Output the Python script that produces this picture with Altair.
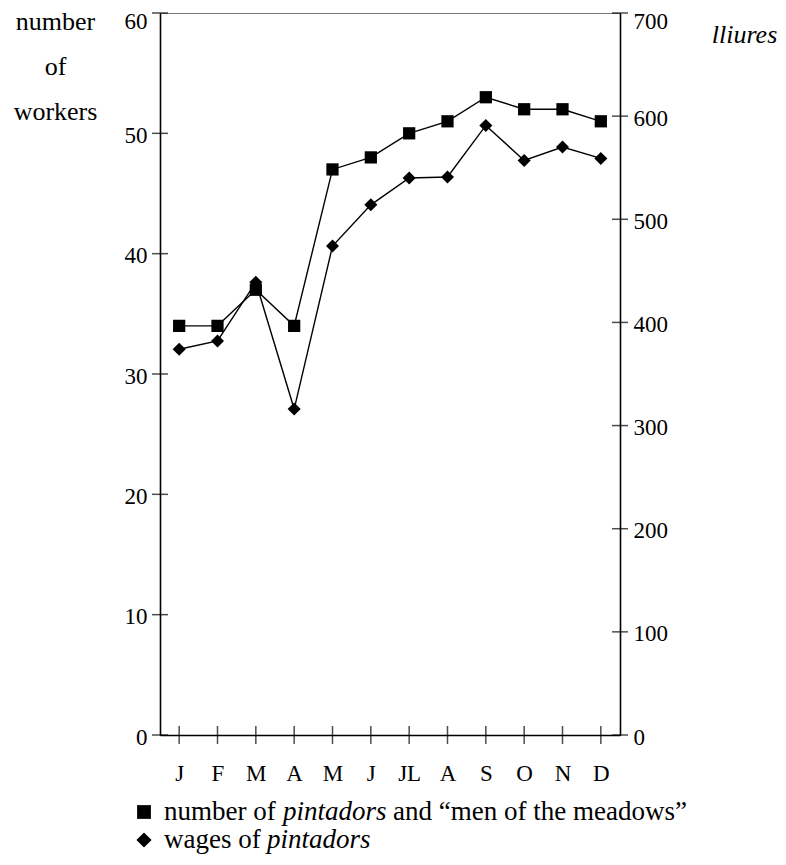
import altair as alt
import pandas as pd

FONT = "Liberation Serif"

month_labels = ["J", "F", "M", "A", "M", "J", "JL", "A", "S", "O", "N", "D"]
month_num = list(range(1, 13))
workers = [34, 34, 37, 34, 47, 48, 50, 51, 53, 52, 52, 51]
wages = [374, 382, 439, 316, 474, 514, 540, 541, 591, 557, 570, 559]
left_ticks = [0, 10, 20, 30, 40, 50, 60]
right_ticks = [0, 100, 200, 300, 400, 500, 600, 700]

df = pd.DataFrame({"m": month_num, "workers": workers, "wages": wages})
months_df = pd.DataFrame({"m": month_num})
lt_df = pd.DataFrame({"v": left_ticks})
rt_df = pd.DataFrame({"v": right_ticks})
one = pd.DataFrame({"k": [0]})

W, H = 460, 722
TICK_LEN = 16
LEG_Y1, LEG_Y2 = 799, 827
LEG_FS = 27
LAB_FS = 23

label_expr = "[" + ",".join("'%s'" % s for s in month_labels) + "][datum.value - 1]"

x_enc = alt.X(
    "m:Q",
    scale=alt.Scale(domain=[0.5, 12.5], nice=False, zero=False),
    axis=alt.Axis(values=month_num, labelExpr=label_expr, title=None, ticks=False,
                  tickSize=0, grid=False, labelPadding=27, labelBaseline="top",
                  labelFontSize=LAB_FS, labelFont=FONT, labelColor="black",
                  domainColor="black", domainWidth=1.6),
)

left_scale = alt.Scale(domain=[0, 60], nice=False, zero=True)
right_scale = alt.Scale(domain=[0, 700], nice=False, zero=True)

left_axis = alt.Axis(orient="left", values=left_ticks, title=["number", "of", "workers"],
                     titleAngle=0, titleX=-105, titleY=16, titleAlign="center",
                     titleBaseline="alphabetic", titleLineHeight=45, titleFontSize=26,
                     titleFont=FONT, titleFontWeight="normal", titleColor="black",
                     ticks=False, tickSize=0, labelPadding=13,
                     labelOffset={"condition": {"test": "datum.value == 60", "value": 8},
                                  "value": 2},
                     grid=False, labelFontSize=LAB_FS, labelFont=FONT, labelColor="black",
                     domainColor="black", domainWidth=1.6)
right_axis = alt.Axis(orient="right", values=right_ticks, title="lliures",
                      titleAngle=0, titleX=124, titleY=29, titleAlign="center",
                      titleBaseline="alphabetic", titleFontSize=26, titleFontStyle="italic",
                      titleFont=FONT, titleFontWeight="normal", titleColor="black",
                      ticks=False, tickSize=0, labelPadding=13,
                      labelOffset={"condition": {"test": "datum.value == 700", "value": 8},
                                   "value": 2},
                      grid=False, labelFontSize=LAB_FS, labelFont=FONT, labelColor="black",
                      domainColor="black", domainWidth=1.6)

y_left = alt.Y("workers:Q", scale=left_scale, axis=left_axis)
y_right = alt.Y("wages:Q", scale=right_scale, axis=right_axis)

line_w = alt.Chart(df).mark_line(color="black", strokeWidth=1.4).encode(x=x_enc, y=y_left)
pts_w = alt.Chart(df).mark_point(shape="square", filled=True, size=150, color="black",
                                 opacity=1).encode(x=x_enc, y=y_left)

ticks_x = alt.Chart(months_df).mark_tick(orient="vertical", size=TICK_LEN + 2, thickness=1.5,
                                         color="black").encode(x=x_enc, y=alt.value(H))
ticks_l = alt.Chart(lt_df).mark_tick(orient="horizontal", size=TICK_LEN, thickness=1.5,
                                     color="black").encode(
    x=alt.value(0), y=alt.Y("v:Q", scale=left_scale, axis=left_axis))

line_g = alt.Chart(df).mark_line(color="black", strokeWidth=1.4).encode(x=x_enc, y=y_right)
pts_g = alt.Chart(df).mark_point(shape="diamond", filled=True, size=170, color="black",
                                 opacity=1).encode(x=x_enc, y=y_right)
ticks_r = alt.Chart(rt_df).mark_tick(orient="horizontal", size=TICK_LEN, thickness=1.5,
                                     color="black").encode(
    x=alt.value(W), y=alt.Y("v:Q", scale=right_scale, axis=right_axis))

# legend
leg_sq = alt.Chart(one).mark_point(shape="square", filled=True, size=190, color="black",
                                   opacity=1).encode(x=alt.value(-16), y=alt.value(LEG_Y1))
leg_di = alt.Chart(one).mark_point(shape="diamond", filled=True, size=230, color="black",
                                   opacity=1).encode(x=alt.value(-16), y=alt.value(LEG_Y2))


def seg(txt, x, y, italic=False):
    kw = dict(text=txt, align="left", baseline="middle", font=FONT, fontSize=LEG_FS,
              color="black")
    if italic:
        kw["fontStyle"] = "italic"
    return alt.Chart(one).mark_text(**kw).encode(x=alt.value(x), y=alt.value(y))


legend_layers = [
    leg_sq, leg_di,
    seg("number of", 4, LEG_Y1),
    seg("pintadors", 123, LEG_Y1, True),
    seg("and \u201cmen of the meadows\u201d", 233, LEG_Y1),
    seg("wages of", 4, LEG_Y2),
    seg("pintadors", 107, LEG_Y2, True),
]

left_group = alt.layer(ticks_x, line_w, pts_w, ticks_l, *legend_layers)
right_group = alt.layer(line_g, pts_g, ticks_r)

chart = alt.layer(left_group, right_group).resolve_scale(y="independent").properties(
    width=W, height=H,
    padding={"left": 152, "top": 5, "right": 158, "bottom": 122},
    autosize=alt.AutoSizeParams(type="none"),
    background="white",
).configure_view(
    stroke="#777", strokeWidth=1
).configure_axis(
    domainColor="black", domainWidth=1.6, labelColor="black", labelFont=FONT,
    titleFont=FONT, titleColor="black", titleFontWeight="normal"
)

chart.save("out.html", embed_options={"renderer": "svg", "actions": False})
